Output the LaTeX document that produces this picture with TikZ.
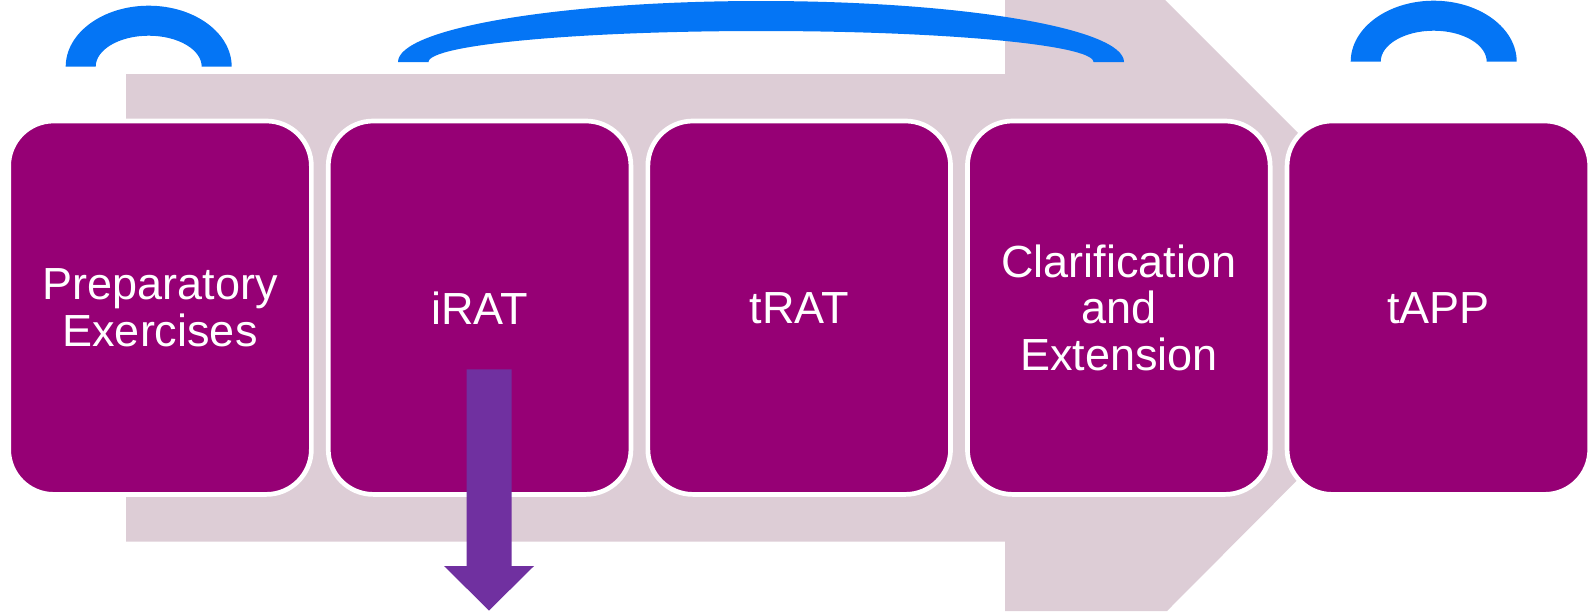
\documentclass[tikz,border=0pt]{standalone}
\usepackage{fontspec}
\setmainfont{Liberation Sans}
\usetikzlibrary{positioning}
\usetikzlibrary{calc}

\definecolor{boxpurple}{RGB}{150,0,117}
\definecolor{bandpink}{RGB}{221,205,214}
\definecolor{arcblue}{RGB}{4,117,245}
\definecolor{downpurple}{RGB}{112,48,160}

\tikzstyle{stage}=[rectangle,rounded corners=45pt,fill=boxpurple,draw=white,line width=4.7pt,minimum width=302.7pt,minimum height=373.4pt,inner sep=0pt,text=white,align=center,font=\fontsize{45pt}{46.5pt}\selectfont]
\tikzstyle{band}=[fill=bandpink]
\tikzstyle{bracket}=[fill=arcblue]
\tikzstyle{down}=[fill=downpurple]

\begin{document}
\begin{tikzpicture}[x=1pt,y=-1pt]
\useasboundingbox (0,0) rectangle (1590,611);

%big arrow behind
    \fill[band] (126,74) -- (1005,74) -- (1005,0) -- (1165,0) -- (1471,305.5)
        -- (1167,611) -- (1005,611) -- (1005,541.7) -- (126,541.7) -- cycle;

%stages
    \foreach \i/\name/\label in {0/prep/{Preparatory\\Exercises}, 1/irat/iRAT, 2/trat/tRAT, 3/clar/{Clarification\\and\\Extension}, 4/tapp/tAPP}
        \node[stage] (\name) at (160+319.6*\i, 307.7) {\label};

%arrow out of iRAT
    \fill[down] (466.7,369.3) -- (511.7,369.3) -- (511.7,566) -- (534,566)
        -- (489,610.5) -- (444,566) -- (466.7,566) -- cycle;

%arcs on top
    \foreach \cx/\by/\ro/\ri in {148.7/66.7/83/53, 761/62/363/332.5, 1433.7/61.7/83/53}
        \fill[bracket] (\cx-\ro,\by) arc[start angle=180,end angle=360,x radius=\ro,y radius=61]
            -- (\cx+\ri,\by) arc[start angle=0,end angle=-180,x radius=\ri,y radius=31] -- cycle;

\end{tikzpicture}
\end{document}
